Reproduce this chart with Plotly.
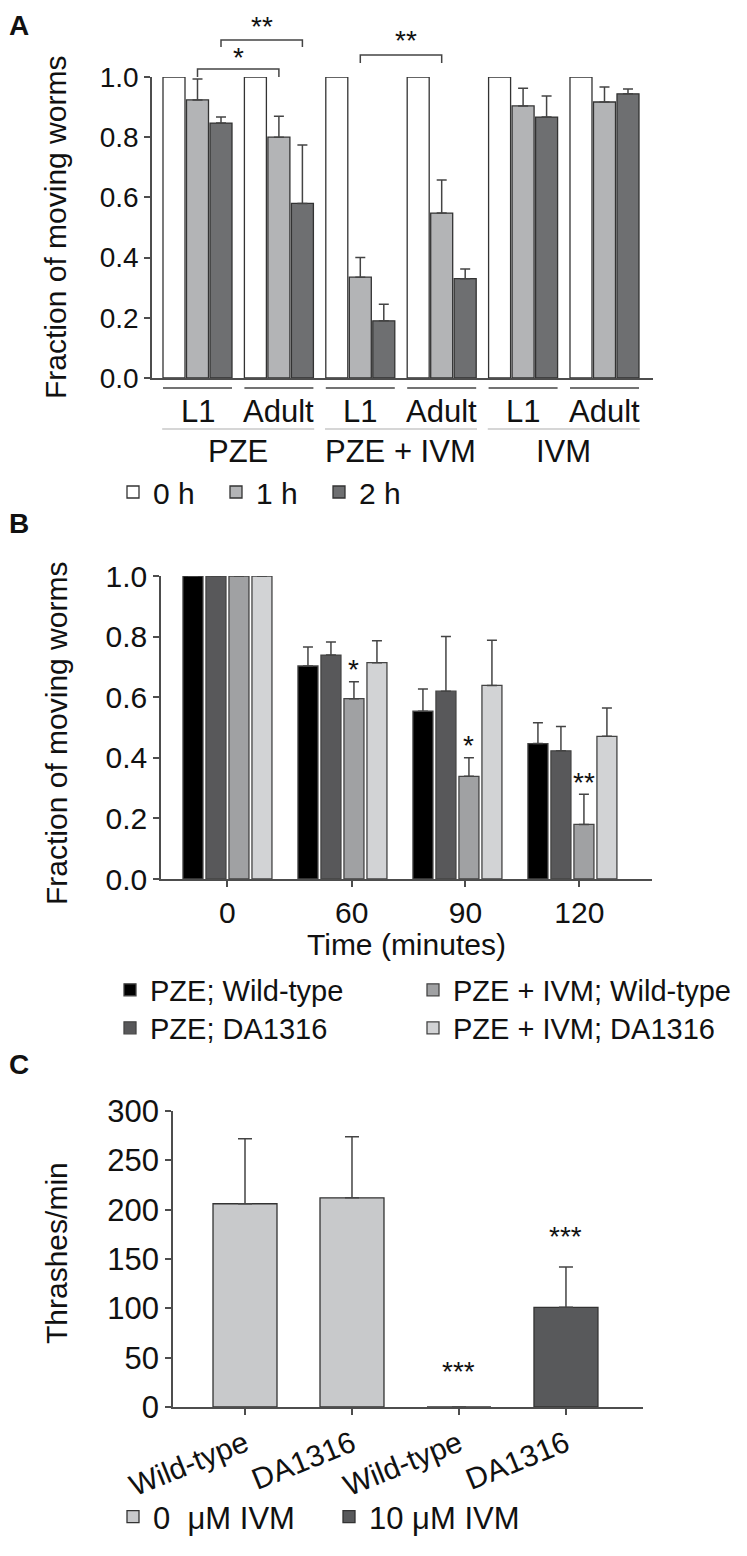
import plotly.graph_objects as go

# page is 747x1556; the html body has an 8 px margin, so the figure is drawn 8 px in
PAGE_W, PAGE_H, OFF = 747, 1556, 8
W, H = PAGE_W - 2 * OFF, PAGE_H - 2 * OFF
FONT = "Liberation Sans, Arial, sans-serif"
AX = "#4d4d4d"

# ---------------- Panel A data ----------------
a_groups = ["PZE L1", "PZE Adult", "PZE + IVM L1", "PZE + IVM Adult", "IVM L1", "IVM Adult"]
a_stage = ["L1", "Adult", "L1", "Adult", "L1", "Adult"]
a_treat = ["PZE", "PZE + IVM", "IVM"]
a_series = ["0 h", "1 h", "2 h"]
a_0h = [1.0, 1.0, 1.0, 1.0, 1.0, 1.0]
a_1h = [0.924, 0.800, 0.335, 0.548, 0.904, 0.917]
a_1h_err = [0.069, 0.070, 0.065, 0.110, 0.059, 0.050]
a_2h = [0.847, 0.580, 0.190, 0.330, 0.867, 0.944]
a_2h_err = [0.020, 0.194, 0.055, 0.032, 0.070, 0.016]
a_ticks = [0.0, 0.2, 0.4, 0.6, 0.8, 1.0]
a_ticktext = ["0.0", "0.2", "0.4", "0.6", "0.8", "1.0"]
# significance: (group_from, series_from, group_to, series_to, label)
a_sig = [(0, 1, 1, 1, "*"), (0, 2, 1, 2, "**"), (2, 1, 3, 1, "**")]

# ---------------- Panel B data ----------------
b_times = ["0", "60", "90", "120"]
b_tick_pos = [0.0, 1.08, 2.07, 3.06]   # tick marks sit slightly right of the bar groups
b_series = ["PZE; Wild-type", "PZE; DA1316", "PZE + IVM; Wild-type", "PZE + IVM; DA1316"]
b_wt = [1.0, 0.703, 0.554, 0.447]
b_wt_err = [None, 0.063, 0.073, 0.069]
b_da = [1.0, 0.739, 0.620, 0.423]
b_da_err = [None, 0.043, 0.180, 0.080]
b_ivm_wt = [1.0, 0.595, 0.339, 0.180]
b_ivm_wt_err = [None, 0.056, 0.061, 0.100]
b_ivm_da = [1.0, 0.714, 0.639, 0.471]
b_ivm_da_err = [None, 0.072, 0.149, 0.093]
b_ticks = [0.0, 0.2, 0.4, 0.6, 0.8, 1.0]
b_ticktext = ["0.0", "0.2", "0.4", "0.6", "0.8", "1.0"]
# significance marks on the PZE + IVM; Wild-type series
b_sig = ["", "*", "*", "**"]

# ---------------- Panel C data ----------------
c_strain = ["Wild-type", "DA1316", "Wild-type", "DA1316"]
c_conc = ["0\u00a0 \u03bcM IVM", "0\u00a0 \u03bcM IVM", "10 \u03bcM IVM", "10 \u03bcM IVM"]
c_series = ["0\u00a0 \u03bcM IVM", "10 \u03bcM IVM"]
c_vals = [206, 212, 0, 101]
c_err = [66, 62, None, 41]
c_sig = ["", "", "***", "***"]
c_ticks = [0, 50, 100, 150, 200, 250, 300]


def py(px):
    return 1 - (px - OFF) / H


def pxx(px):
    return (px - OFF) / W


fig = go.Figure()

# ---------------- Panel A ----------------
A_UNIT = 81.4
a_w = 22 / A_UNIT
a_sub = 23.5 / A_UNIT
a_fill = ["#ffffff", "#b3b4b6", "#6e6f71"]
for k, (name, vals, err) in enumerate(zip(a_series, [a_0h, a_1h, a_2h], [None, a_1h_err, a_2h_err])):
    kw = {}
    if err is not None:
        kw["error_y"] = dict(type="data", symmetric=False, array=err, arrayminus=[0] * len(err),
                             color="#444", thickness=1.5, width=5)
    fig.add_bar(x=a_groups, y=vals, name=name, width=a_w, offset=(k - 1) * a_sub - a_w / 2,
                marker=dict(color=a_fill[k], line=dict(color="#333", width=1.3)),
                xaxis="x", yaxis="y", legend="legend", **kw)

# ---------------- Panel B ----------------
B_UNIT = 115.0
b_w = 20 / B_UNIT
b_sub = 23 / B_UNIT
b_fill = ["#000000", "#58585a", "#a0a1a3", "#d2d3d5"]
b_leg = ["legend2", "legend4", "legend3", "legend5"]
b_pos = list(range(len(b_times)))
for k, (name, vals, err) in enumerate(zip(b_series, [b_wt, b_da, b_ivm_wt, b_ivm_da],
                                          [b_wt_err, b_da_err, b_ivm_wt_err, b_ivm_da_err])):
    fig.add_bar(x=b_pos, y=vals, name=name, width=b_w, offset=(k - 1.5) * b_sub - b_w / 2,
                marker=dict(color=b_fill[k], line=dict(color="#444", width=1.3)),
                error_y=dict(type="data", symmetric=False, array=err,
                             arrayminus=[0] * len(err), color="#444", thickness=1.5, width=5),
                xaxis="x2", yaxis="y2", legend=b_leg[k])

# ---------------- Panel C ----------------
C_UNIT = 107.0
c_w = 64 / C_UNIT
c_fill = ["#c8c9cb", "#58595b"]
c_pos = list(range(len(c_strain)))
for k, s in enumerate(c_series):
    idx = [i for i in c_pos if c_conc[i] == s]
    fig.add_bar(x=idx, y=[c_vals[i] for i in idx], name=s, width=c_w,
                marker=dict(color=c_fill[k], line=dict(color="#333", width=1.3)),
                error_y=dict(type="data", symmetric=False, array=[c_err[i] for i in idx],
                             arrayminus=[0] * len(idx), color="#444", thickness=1.5, width=7),
                xaxis="x3", yaxis="y3", legend="legend6")

axis_common = dict(showline=True, linecolor=AX, linewidth=1.5, showgrid=False, zeroline=False,
                   tickcolor=AX, tickwidth=1.5, fixedrange=True, automargin=False)

annotations = []
shapes = []

# A labels
for i, s in enumerate(a_stage):
    annotations.append(dict(x=i, y=py(412), xref="x", yref="paper", text=s, showarrow=False,
                            font=dict(size=31), yanchor="middle"))
    shapes.append(dict(type="line", xref="x", yref="paper", x0=i - a_sub - a_w / 2,
                       x1=i + a_sub + a_w / 2, y0=py(388), y1=py(388),
                       line=dict(color="#444", width=1.5)))
for j, t in enumerate(a_treat):
    annotations.append(dict(x=2 * j + 0.5, y=py(451), xref="x", yref="paper", text=t,
                            showarrow=False, font=dict(size=31), yanchor="middle"))
    shapes.append(dict(type="line", xref="x", yref="paper", x0=2 * j - a_sub - a_w / 2 - 0.01,
                       x1=2 * j + 1 + a_sub + a_w / 2 + 0.01, y0=py(429), y1=py(429),
                       line=dict(color="#c8c8c8", width=1.5)))
# A significance brackets
a_br_y = [(69, 77), (40, 47), (55, 63)]
a_star_y = [57, 27, 40]
a_star_dx = [0.0, 0.0, 0.06]
for (g0, s0, g1, s1, lab), (ytop, yend), ys, dx in zip(a_sig, a_br_y, a_star_y, a_star_dx):
    x0 = g0 + (s0 - 1) * a_sub
    x1 = g1 + (s1 - 1) * a_sub
    shapes.append(dict(type="path", xref="x", yref="paper",
                       path=f"M {x0},{py(yend)} L {x0},{py(ytop)} L {x1},{py(ytop)} L {x1},{py(yend)}",
                       line=dict(color="#444", width=1.5)))
    annotations.append(dict(x=(x0 + x1) / 2 + dx, y=py(ys), xref="x", yref="paper", text=lab,
                            showarrow=False, font=dict(size=28, color="#111"), yanchor="middle"))

# B significance
for i, lab in enumerate(b_sig):
    if lab:
        top = b_ivm_wt[i] + (b_ivm_wt_err[i] or 0)
        annotations.append(dict(x=b_pos[i] + 0.5 * b_sub, y=top, xref="x2", yref="y2", text=lab,
                                showarrow=False, font=dict(size=28, color="#111"),
                                yanchor="middle", yshift=12))

# C significance
for i, lab in enumerate(c_sig):
    if lab:
        top = c_vals[i] + (c_err[i] or 0)
        annotations.append(dict(x=i, y=top, xref="x3", yref="y3", text=lab,
                                showarrow=False, font=dict(size=28, color="#111"),
                                yanchor="middle", yshift=36 if c_vals[i] == 0 else 30))

# Time axis title
annotations.append(dict(x=pxx((161 + 652) / 2), y=py(944), xref="paper", yref="paper",
                        text="Time (minutes)", showarrow=False, font=dict(size=30),
                        xanchor="center", yanchor="middle"))

# Panel letters
for letter, ypx in [("A", 26), ("B", 523), ("C", 1064)]:
    annotations.append(dict(x=pxx(19), y=py(ypx), xref="paper", yref="paper",
                            text=f"<b>{letter}</b>", showarrow=False,
                            font=dict(size=28, color="#111"), xanchor="center", yanchor="middle"))

# Y titles
for txt, ypx in [("Fraction of moving worms", 228), ("Fraction of moving worms", 734), ("Thrashes/min", 1253)]:
    annotations.append(dict(x=pxx(56), y=py(ypx), xref="paper", yref="paper", text=txt,
                            textangle=-90, showarrow=False, font=dict(size=30),
                            xanchor="center", yanchor="middle"))

leg_common = dict(orientation="h", xanchor="left", yanchor="middle", bgcolor="rgba(0,0,0,0)",
                  itemwidth=30)

fig.update_layout(
    width=W, height=H, margin=dict(l=0, r=0, t=0, b=0, autoexpand=False),
    paper_bgcolor="white", plot_bgcolor="white",
    font=dict(family=FONT, color="#111"),
    barmode="overlay",
    xaxis=dict(domain=[pxx(152), pxx(653)], range=[-0.559, 5.596], anchor="y",
               showticklabels=False, ticks="", **axis_common),
    yaxis=dict(domain=[py(378), py(77)], range=[0, 1], anchor="x", tickvals=a_ticks,
               ticktext=a_ticktext, ticks="outside", ticklen=6, tickfont=dict(size=28),
               **axis_common),
    xaxis2=dict(domain=[pxx(161), pxx(652)], range=[-0.578, 3.692], anchor="y2",
                tickvals=b_tick_pos, ticktext=b_times,
                ticks="outside", ticklen=6, tickfont=dict(size=30), **axis_common),
    yaxis2=dict(domain=[py(879), py(576)], range=[0, 1], anchor="x2", tickvals=b_ticks,
                ticktext=b_ticktext, ticks="outside", ticklen=6, tickfont=dict(size=30),
                **axis_common),
    xaxis3=dict(domain=[pxx(173), pxx(643)], range=[-0.673, 3.72], anchor="y3",
                tickvals=c_pos, ticktext=c_strain, tickangle=-22, ticks="outside", ticklen=6,
                tickfont=dict(size=30), **axis_common),
    yaxis3=dict(domain=[py(1407), py(1111)], range=[0, 300], anchor="x3", tickvals=c_ticks,
                ticks="outside", ticklen=6, tickfont=dict(size=31), **axis_common),
    legend=dict(x=pxx(113), y=py(492), entrywidth=58, entrywidthmode="pixels",
                font=dict(size=30, color="#111"), **leg_common),
    legend2=dict(x=pxx(110), y=py(990), font=dict(size=29, color="#111"), **leg_common),
    legend3=dict(x=pxx(413), y=py(990), font=dict(size=29, color="#111"), **leg_common),
    legend4=dict(x=pxx(110), y=py(1028), font=dict(size=29, color="#111"), **leg_common),
    legend5=dict(x=pxx(413), y=py(1028), font=dict(size=29, color="#111"), **leg_common),
    legend6=dict(x=pxx(113), y=py(1517), entrywidth=171, entrywidthmode="pixels",
                 font=dict(size=31, color="#111"), **leg_common),
    annotations=annotations,
    shapes=shapes,
)

fig.write_html("out.html")
